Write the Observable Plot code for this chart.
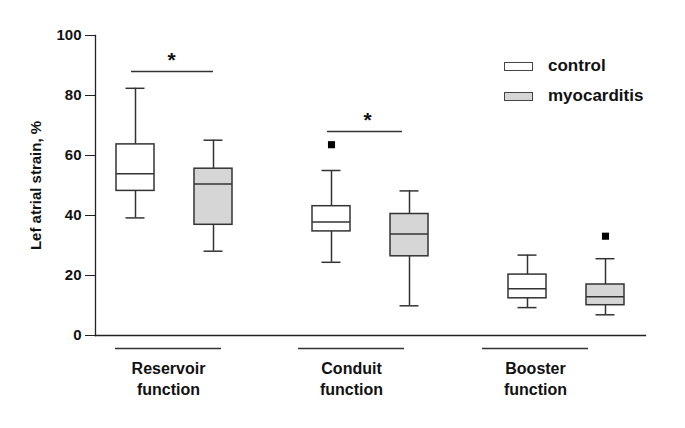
<!DOCTYPE html>
<html>
<head>
<meta charset="utf-8">
<script src="https://cdn.jsdelivr.net/npm/d3@7"></script>
<script src="https://cdn.jsdelivr.net/npm/@observablehq/plot@0.6"></script>
<style>
  html, body { margin: 0; padding: 0; background: #fff; }
  #wrap { position: relative; width: 685px; height: 428px; font-family: "Liberation Sans", Arial, sans-serif; }
  .legend { position: absolute; left: 504px; top: 51px; font-weight: bold; font-size: 17px; color: #111; }
  .legend .row { display: flex; align-items: center; height: 30px; }
  .legend .sw { width: 29px; height: 9px; box-sizing: border-box; border: 1.5px solid #444; margin-right: 15px; }
</style>
</head>
<body>
<div id="wrap"></div>
<script>
// ---- data ----
const groups = ["Reservoir function", "Conduit function", "Booster function"];
const conditions = ["control", "myocarditis"];
// order: Reservoir control, Reservoir myocarditis, Conduit control, Conduit myocarditis, Booster control, Booster myocarditis
const whiskerLow  = [39.2, 28.1, 24.4,  9.9,  9.3,  6.9];
const q1          = [48.2, 36.9, 34.7, 26.4, 12.4, 10.1];
const median      = [53.9, 50.5, 37.8, 33.8, 15.6, 12.9];
const q3          = [63.7, 55.6, 43.1, 40.5, 20.3, 17.0];
const whiskerHigh = [82.4, 65.1, 55.0, 48.2, 26.8, 25.6];
const outlierGroup = ["Conduit function", "Booster function"];
const outlierCond  = ["control", "myocarditis"];
const outlierValue = [63.6, 33.1];
const sigGroup = ["Reservoir function", "Conduit function"];
const sigLevel = [88, 68];
const yTicks = [0, 20, 40, 60, 80, 100];
const yLabel = "Lef atrial strain, %";
const conditionFill = ["#ffffff", "#d6d6d6"];

// ---- tables ----
const boxes = [];
groups.forEach((g, gi) => conditions.forEach((c, ci) => {
  const k = gi * 2 + ci;
  boxes.push({group: g, cond: c, lo: whiskerLow[k], q1: q1[k], med: median[k], q3: q3[k], hi: whiskerHigh[k]});
}));
const outliers = outlierGroup.map((g, i) => ({group: g, cond: outlierCond[i], value: outlierValue[i]}));
const sig = sigGroup.map((g, i) => ({group: g, y: sigLevel[i]}));
const groupRows = groups.map(g => ({group: g}));
const labelShift = [-6, -19, -31];
const sigInsetRight = [19, 26];

const ink = "#333";
const groupMarks = [];
groupRows.forEach((row, i) => {
  groupMarks.push(Plot.ruleY([row], {fx: "group", y: () => 0, dy: 13, dx: labelShift[i], insetLeft: 26, insetRight: 26, stroke: ink, strokeWidth: 1.3}));
  groupMarks.push(Plot.text([row], {fx: "group", frameAnchor: "bottom", text: d => d.group.replace(" ", "\n"), lineAnchor: "top", dy: 24, dx: labelShift[i], lineHeight: 1.3, fontSize: 16, fontWeight: "bold", fill: "#111"}));
});
const sigMarks = sig.map((s, i) => Plot.ruleY([s], {fx: "group", y: "y", x1: () => conditions[0], x2: () => conditions[1], insetLeft: 15, insetRight: sigInsetRight[i], stroke: ink, strokeWidth: 1.3}));

const chart = Plot.plot({
  width: 685,
  height: 428,
  marginLeft: 95,
  marginRight: 40,
  marginTop: 35,
  marginBottom: 93,
  style: {fontFamily: "'Liberation Sans', Arial, sans-serif", fontSize: "15px", fontWeight: "bold", color: "#111", background: "#fff"},
  fx: {domain: groups, paddingInner: 0.195, paddingOuter: 0, axis: null, label: null},
  x: {domain: conditions, paddingInner: 0.516, paddingOuter: 0.263, axis: null},
  y: {domain: [0, 100]},
  color: {domain: conditions, range: conditionFill},
  marks: [
    Plot.axisY({ticks: yTicks, tickSize: 10, tickPadding: 4, label: yLabel, labelAnchor: "center", labelArrow: "none", labelOffset: 65, fontSize: 15, stroke: "#222"}),
    Plot.frame({anchor: "left", facet: "super", stroke: "#222", strokeWidth: 1.3}),
    Plot.frame({anchor: "bottom", facet: "super", stroke: "#222", strokeWidth: 1.3}),
    // whiskers
    Plot.ruleX(boxes, {fx: "group", x: "cond", y1: "lo", y2: "q1", stroke: ink, strokeWidth: 1.5}),
    Plot.ruleX(boxes, {fx: "group", x: "cond", y1: "q3", y2: "hi", stroke: ink, strokeWidth: 1.5}),
    Plot.tickY(boxes, {fx: "group", x: "cond", y: "lo", insetLeft: 9.5, insetRight: 9.5, stroke: ink, strokeWidth: 1.5}),
    Plot.tickY(boxes, {fx: "group", x: "cond", y: "hi", insetLeft: 9.5, insetRight: 9.5, stroke: ink, strokeWidth: 1.5}),
    // boxes
    Plot.barY(boxes, {fx: "group", x: "cond", y1: "q1", y2: "q3", fill: "cond", stroke: ink, strokeWidth: 1.5}),
    Plot.tickY(boxes, {fx: "group", x: "cond", y: "med", stroke: ink, strokeWidth: 1.5}),
    // outliers
    Plot.dot(outliers, {fx: "group", x: "cond", y: "value", symbol: "square", r: 4, fill: "#000", stroke: null}),
    // significance
    ...sigMarks,
    Plot.text(sig, {fx: "group", y: "y", text: () => "*", dy: -11, dx: -3, fontSize: 21, fontWeight: "bold", fill: "#111"}),
    ...groupMarks
  ]
});

const wrap = document.getElementById("wrap");
wrap.appendChild(chart);
const legend = document.createElement("div");
legend.className = "legend";
conditions.forEach((c, i) => {
  const row = document.createElement("div");
  row.className = "row";
  const sw = document.createElement("div");
  sw.className = "sw";
  sw.style.background = conditionFill[i];
  const t = document.createElement("span");
  t.textContent = c;
  row.appendChild(sw);
  row.appendChild(t);
  legend.appendChild(row);
});
wrap.appendChild(legend);
</script>
</body>
</html>
